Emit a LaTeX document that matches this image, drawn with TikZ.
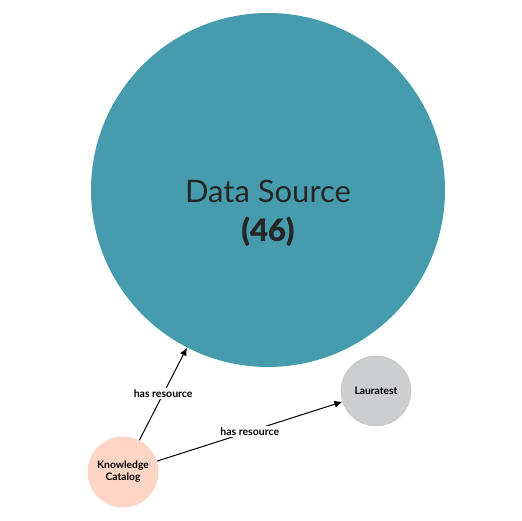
\documentclass[tikz,border=0pt]{standalone}
\usepackage{fontspec}
\setmainfont{Lato}
\newfontfamily\heavyfont{Lato Black}
\usetikzlibrary{arrows.meta}
\definecolor{teal}{HTML}{469CAC}
\definecolor{peach}{HTML}{FDD5C5}
\definecolor{lgray}{HTML}{CDCED0}
\definecolor{lgrayb}{HTML}{BFC0C2}
\tikzset{
  bignode/.style={circle, fill=teal, minimum size=354pt, inner sep=0pt},
  bigtext/.style={align=center, text=black!85, inner sep=0pt},
  smallnode/.style={circle, minimum size=71pt, inner sep=0pt, align=center, font=\fontsize{10.3}{12}\selectfont\bfseries},
  rel/.style={-{Latex[length=8pt,width=7pt]}, line width=1pt, black},
  rellabel/.style={fill=white, inner sep=1.5pt, font=\fontsize{10.5}{12}\selectfont\bfseries}
}
\begin{document}
\begin{tikzpicture}[x=1pt,y=-1pt]
\useasboundingbox (0,0) rectangle (522,521);
\node[bignode] (ds) at (268,190) {};
\node[bigtext] (dstext) at (268,213) {{\fontsize{31}{34}\selectfont Data Source}\\[13pt]{\fontsize{31}{34}\selectfont\heavyfont (46)}};
\node[smallnode, fill=peach] (kc) at (123,472) {Knowledge\\Catalog};
\node[smallnode, fill=lgray, draw=lgrayb, line width=0.4pt, minimum size=70pt] (lt) at (376,391) {Lauratest};
\draw[rel] (kc) -- node[rellabel] {has resource} (ds);
\draw[rel] (kc) -- node[rellabel] {has resource} (lt);
\end{tikzpicture}
\end{document}
